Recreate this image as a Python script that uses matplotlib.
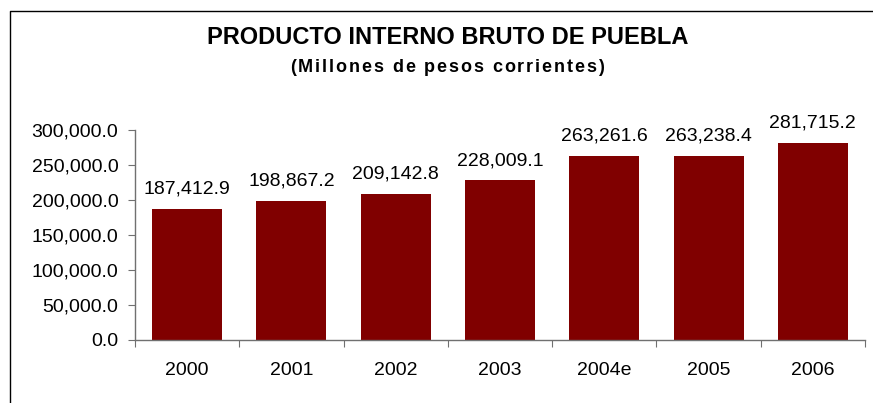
# PIB de Puebla - bar chart
import matplotlib
matplotlib.use("Agg")
from matplotlib import pyplot as plt
from matplotlib.lines import Line2D
import numpy as np

plt.rcParams['font.family'] = ['Liberation Sans', 'DejaVu Sans']

# Data
years = ["2000", "2001", "2002", "2003", "2004e", "2005", "2006"]
pib = [187412.9, 198867.2, 209142.8, 228009.1, 263261.6, 263238.4, 281715.2]
yticks = [0, 50000, 100000, 150000, 200000, 250000, 300000]

fig = plt.figure(figsize=(8.73, 4.03), dpi=100)
ax = fig.add_axes([135/873, 63/403, 730/873, 210/403])

x = np.arange(len(years))
ax.bar(x, pib, width=0.67, color='#800000')

# labels on top of the bars
for xi, v in zip(x, pib):
    ax.annotate(f"{v:,.1f}", (xi, v), xytext=(0, 8), textcoords='offset points',
                ha='center', va='bottom', fontsize=14)

ax.set_xlim(-0.5, len(years) - 0.5)
ax.set_ylim(0, 300000)
ax.set_yticks(yticks)
ax.set_yticklabels([f"{t:,.1f}" for t in yticks], fontsize=14)

# category ticks between bars, labels centered
ax.set_xticks(np.arange(-0.5, len(years)), minor=False)
ax.set_xticklabels([])
ax.set_xticks(x, minor=True)
ax.set_xticklabels(years, minor=True, fontsize=14)
ax.tick_params(axis='x', which='minor', length=0, pad=16)
ax.tick_params(axis='x', which='major', length=5, direction='out', color='#707070')
ax.tick_params(axis='y', length=5, direction='out', color='#707070', pad=7)

for s in ['top', 'right']:
    ax.spines[s].set_visible(False)
for s in ['left', 'bottom']:
    ax.spines[s].set_color('#707070')
    ax.spines[s].set_linewidth(1)

# titles
fig.text(448/873, 1 - 38/403, "PRODUCTO INTERNO BRUTO DE PUEBLA", ha='center', va='center',
         fontsize=17, fontweight='bold')

# subtitle with extra letter spacing, drawn char by char
subtitle = "(Millones de pesos corrientes)"
renderer = fig.canvas.get_renderer()
spacing = 1.9
widths = []
for ch in subtitle:
    t = fig.text(0, 0, ch if ch != " " else "a a", fontsize=13, fontweight='bold')
    w = t.get_window_extent(renderer).width
    if ch == " ":
        t2 = fig.text(0, 0, "aa", fontsize=13, fontweight='bold')
        w = w - t2.get_window_extent(renderer).width
        t2.remove()
    t.remove()
    widths.append(w)
total = sum(widths) + spacing * (len(subtitle) - 1)
xpos = 447 - total / 2
for ch, w in zip(subtitle, widths):
    fig.text(xpos / 873, 1 - 68/403, ch, ha='left', va='center',
             fontsize=13, fontweight='bold')
    xpos += w + spacing

# chart frame (top and left edges visible)
fig.add_artist(Line2D([10/873, 10/873, 1], [0, 1 - 11/403, 1 - 11/403],
                      transform=fig.transFigure, color='black', linewidth=1))

fig.savefig("out.png", dpi=100)
